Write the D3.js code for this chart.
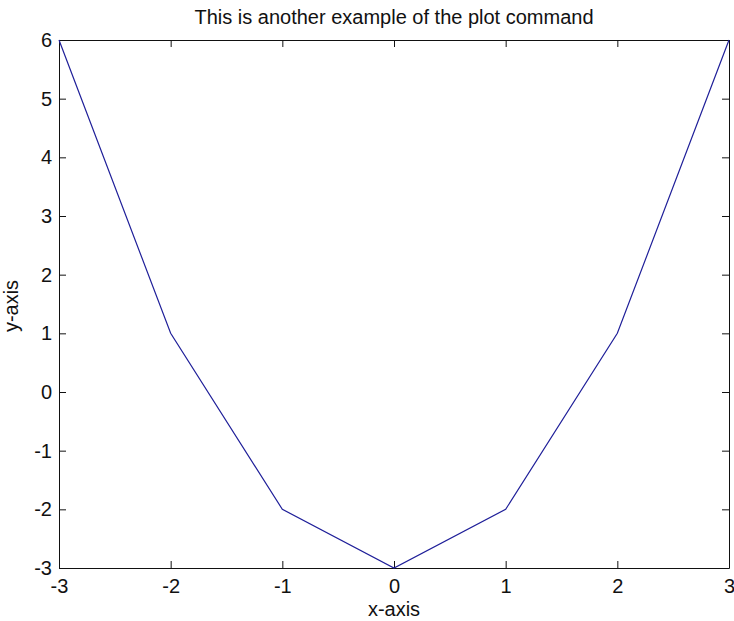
<!DOCTYPE html>
<html>
<head>
<meta charset="utf-8">
<script src="https://cdn.jsdelivr.net/npm/d3@7"></script>
<style>
  html, body { margin: 0; padding: 0; background: #fff; }
  svg { display: block; }
  text { font-family: "Liberation Sans", Arial, sans-serif; fill: #111; }
</style>
</head>
<body>
<script>
// Data
const xValues = [-3, -2, -1, 0, 1, 2, 3];
const yValues = [6, 1, -2, -3, -2, 1, 6];
const xTicks = [-3, -2, -1, 0, 1, 2, 3];
const yTicks = [-3, -2, -1, 0, 1, 2, 3, 4, 5, 6];
const titleText = "This is another example of the plot command";
const xLabel = "x-axis";
const yLabel = "y-axis";

const W = 734, H = 621;
const m = { left: 59, right: 5, top: 40, bottom: 53 };
const pw = W - m.left - m.right, ph = H - m.top - m.bottom;

const svg = d3.select("body").append("svg").attr("width", W).attr("height", H);
svg.append("rect").attr("width", W).attr("height", H).attr("fill", "#fff");

const x = d3.scaleLinear().domain([-3, 3]).range([0, pw]);
const y = d3.scaleLinear().domain([-3, 6]).range([ph, 0]);

const g = svg.append("g").attr("transform", `translate(${m.left},${m.top})`);

// axes with inward ticks
function styleAxis(sel) {
  sel.select(".domain").attr("stroke", "#111").attr("stroke-width", 1);
  sel.selectAll(".tick line").attr("stroke", "#111").attr("stroke-width", 1);
  sel.selectAll("text").style("font-size", "20px").attr("fill", "#111");
}
const fmt = d => d3.format("")(d).replace("−", "-");

g.append("g").attr("transform", `translate(0,${ph})`)
  .call(d3.axisBottom(x).tickValues(xTicks).tickFormat(fmt).tickSizeInner(-7).tickSizeOuter(0).tickPadding(11))
  .call(styleAxis);
g.append("g")
  .call(d3.axisTop(x).tickValues(xTicks).tickFormat("").tickSizeInner(-7).tickSizeOuter(0))
  .call(styleAxis);
g.append("g")
  .call(d3.axisLeft(y).tickValues(yTicks).tickFormat(fmt).tickSizeInner(-7).tickSizeOuter(0).tickPadding(7))
  .call(styleAxis);
g.append("g").attr("transform", `translate(${pw},0)`)
  .call(d3.axisRight(y).tickValues(yTicks).tickFormat("").tickSizeInner(-7).tickSizeOuter(0))
  .call(styleAxis);

// line
const pts = xValues.map((v, i) => [v, yValues[i]]);
g.append("path").datum(pts)
  .attr("fill", "none").attr("stroke", "#1f1f99").attr("stroke-width", 1.2)
  .attr("d", d3.line().x(d => x(d[0])).y(d => y(d[1])));

// labels
svg.append("text").attr("x", m.left + pw / 2).attr("y", 24)
  .attr("text-anchor", "middle").style("font-size", "20px").text(titleText);
svg.append("text").attr("x", m.left + pw / 2).attr("y", 616)
  .attr("text-anchor", "middle").style("font-size", "20px").text(xLabel);
svg.append("text").attr("transform", `translate(18,${m.top + ph / 2 + 2}) rotate(-90)`)
  .attr("text-anchor", "middle").style("font-size", "20px").text(yLabel);
</script>
</body>
</html>
